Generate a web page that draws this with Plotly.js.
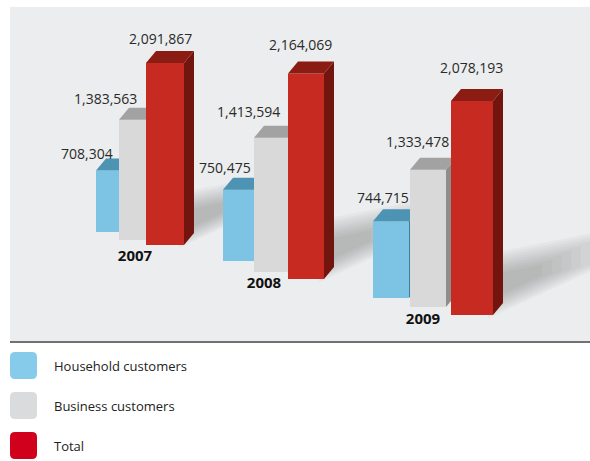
<!DOCTYPE html>
<html><head><meta charset="utf-8">
<script src="https://cdn.plot.ly/plotly-3.0.1.min.js"></script>
<style>html,body{margin:0;padding:0;background:#fff}#chart{width:590px;height:461px}</style>
</head><body><div id="chart"></div>
<script>
// ---- data ----
const years = ['2007', '2008', '2009'];
const seriesNames = ['Household customers', 'Business customers', 'Total'];
const household = [708304, 750475, 744715];
const business = [1383563, 1413594, 1333478];
const total = [2091867, 2164069, 2078193];
const seriesValues = [household, business, total];

// ---- styling / layout constants ----
const W = 590, H = 461;
const colors = {
  front: ['#7cc3e4', '#d9d9da', '#c62a20'],
  top: ['#4c93b4', '#a2a2a3', '#8a1c14'],
  side: ['#3e7e9c', '#8e8e8f', '#72150f'],
  legend: ['#87cbeb', '#dadbdc', '#d1001c']
};
// per year: px per million, and for each series [left, right, base] in px
const geom = [
  {scale: 87,  bars: [[96, 125, 232], [119, 147, 240], [146, 184, 245]]},
  {scale: 95,  bars: [[223, 254, 261], [254, 288, 272], [288, 324, 279]]},
  {scale: 103, bars: [[373, 409, 298], [410, 446, 307], [451, 493, 315]]}
];
// value label offsets [xshift from bar left, yshift above bar top]
const labelOffsets = [
  [[-9.5, 17], [-13.5, 21], [14, 25]],
  [[1.5, 22], [-6, 26], [12.5, 29]],
  [[10, 24], [7.5, 28], [20.5, 33]]
];
// year tick label tweaks [shift along axis, standoff]
const yearTickTweak = [[2, 5], [-7, 0], [-5, 1]];
const depthX = 10, depthY = 12, yTop = 2.4e6;
const FONT = 'Open Sans, Noto Sans, sans-serif';
const px = x => x / W, py = y => 1 - y / H;

const data = [];
const annotations = [];
const shapes = [];
const layout = {
  width: W, height: H,
  margin: {l: 0, r: 0, t: 0, b: 0},
  paper_bgcolor: '#ffffff',
  plot_bgcolor: 'rgba(0,0,0,0)',
  showlegend: false,
  font: {family: FONT, color: '#222'}
};

// background panel
shapes.push({type: 'rect', xref: 'paper', yref: 'paper', layer: 'below',
  x0: px(10), x1: 1, y0: py(341), y1: py(7), fillcolor: '#ecedee', line: {width: 0}});
shapes.push({type: 'line', xref: 'paper', yref: 'paper', layer: 'below',
  x0: px(10), x1: 1, y0: py(342), y1: py(342), line: {color: '#717171', width: 2}});

// soft floor shadows cast up-right from each group's tallest bar
const toPath = pts => 'M' + pts.map(p => px(p[0]).toFixed(5) + ',' + py(p[1]).toFixed(5)).join(' L') + ' Z';
years.forEach((yr, yi) => {
  const g = geom[yi];
  const [, rR, rB] = g.bars[2];
  const h = Math.max(...seriesValues.map(s => s[yi])) / 1e6 * g.scale;
  const Lh = 0.55 * h;
  const A = [rR - 4, rB], B = [rR - 4, rB - 0.27 * h];
  const C = [A[0] + Lh, A[1] - 0.46 * Lh], D = [B[0] + Lh, B[1] - 0.2 * Lh];
  const anchor = [rR + 6, rB - 0.14 * h];
  const base = [A, C, D, B];
  const layers = 9;
  for (let i = 0; i < layers; i++) {
    const s = 1.12 - i * 0.09;
    const pts = base.map(p => [anchor[0] + s * (p[0] - anchor[0]), anchor[1] + s * (p[1] - anchor[1])]);
    shapes.push({type: 'path', xref: 'paper', yref: 'paper', layer: 'below', path: toPath(pts),
      fillcolor: 'rgba(70,70,70,0.035)', line: {width: 0}});
  }
});

let k = 0;
years.forEach((yr, yi) => {
  seriesNames.forEach((nm, si) => {
    k++;
    const suf = k === 1 ? '' : String(k);
    const xa = 'x' + suf, ya = 'y' + suf;
    const [L, R, B] = geom[yi].bars[si];
    const sc = geom[yi].scale;
    const wpx = R - L, extra = depthX + 3;
    const v = seriesValues[si][yi];
    const dxu = depthX / wpx, dyu = depthY / sc * 1e6;

    layout['xaxis' + suf] = {
      domain: [px(L), px(R + extra)],
      range: [-0.5, -0.5 + (wpx + extra) / wpx],
      showgrid: false, zeroline: false, showline: false, fixedrange: true,
      tickvals: [0], ticktext: [yr], ticks: '',
      showticklabels: si === 1,
      ticklabelshift: yearTickTweak[yi][0],
      ticklabelstandoff: yearTickTweak[yi][1],
      tickfont: {family: FONT, size: 15, weight: 700, color: '#111'},
      anchor: ya
    };
    layout['yaxis' + suf] = {
      domain: [py(B), py(B - yTop / 1e6 * sc)],
      range: [0, yTop],
      showgrid: false, zeroline: false, showline: false, showticklabels: false,
      fixedrange: true, anchor: xa
    };

    data.push({
      type: 'bar', x: [0], y: [v], width: [1], name: nm,
      xaxis: xa, yaxis: ya,
      marker: {color: colors.front[si], line: {width: 0}},
      hoverinfo: 'skip'
    });
    data.push({
      type: 'scatter', mode: 'lines', xaxis: xa, yaxis: ya,
      x: [0.5, 0.5 + dxu, 0.5 + dxu, 0.5, 0.5],
      y: [0, dyu, v + dyu, v, 0],
      fill: 'toself', fillcolor: colors.side[si], line: {width: 0},
      hoverinfo: 'skip'
    });
    data.push({
      type: 'scatter', mode: 'lines', xaxis: xa, yaxis: ya,
      x: [-0.5, -0.5 + dxu, 0.5 + dxu, 0.5, -0.5],
      y: [v, v + dyu, v + dyu, v, v],
      fill: 'toself', fillcolor: colors.top[si], line: {width: 0},
      hoverinfo: 'skip'
    });

    const [lx, ly] = labelOffsets[yi][si];
    annotations.push({
      xref: xa, yref: ya, x: -0.5, y: v, xanchor: 'center', yanchor: 'middle',
      xshift: lx, yshift: ly, showarrow: false,
      text: v.toLocaleString('en-US'),
      font: {family: FONT, size: 14, color: '#2a2a2a'}
    });
  });
});

// legend (custom swatches)
function roundRect(x0, y0, x1, y1, r) {
  const X = v => px(v).toFixed(5), Y = v => py(v).toFixed(5);
  return `M${X(x0 + r)},${Y(y0)} L${X(x1 - r)},${Y(y0)} Q${X(x1)},${Y(y0)} ${X(x1)},${Y(y0 + r)} ` +
    `L${X(x1)},${Y(y1 - r)} Q${X(x1)},${Y(y1)} ${X(x1 - r)},${Y(y1)} L${X(x0 + r)},${Y(y1)} ` +
    `Q${X(x0)},${Y(y1)} ${X(x0)},${Y(y1 - r)} L${X(x0)},${Y(y0 + r)} Q${X(x0)},${Y(y0)} ${X(x0 + r)},${Y(y0)} Z`;
}
const legendTop = 352, legendStep = 40, sw = 27;
seriesNames.forEach((nm, si) => {
  const y0 = legendTop + si * legendStep;
  shapes.push({type: 'path', xref: 'paper', yref: 'paper', path: roundRect(10, y0, 37, y0 + sw, 5),
    fillcolor: colors.legend[si], line: {width: 0}});
  annotations.push({xref: 'paper', yref: 'paper', x: px(52), y: py(y0 + sw / 2),
    xanchor: 'left', yanchor: 'middle', showarrow: false, text: nm,
    font: {family: FONT, size: 13, color: '#222'}});
});

layout.shapes = shapes;
layout.annotations = annotations;
Plotly.newPlot('chart', data, layout, {displayModeBar: false, staticPlot: true});
</script>
</body></html>
